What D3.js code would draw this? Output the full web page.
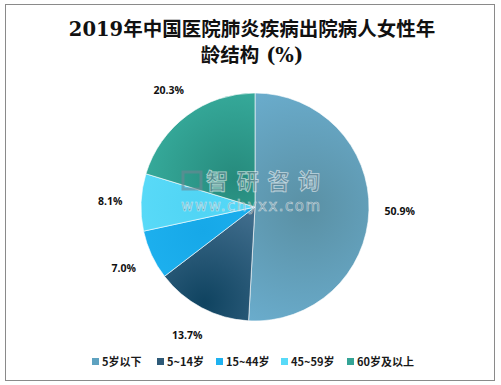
<!DOCTYPE html>
<html><head><meta charset="utf-8">
<script src="https://cdn.jsdelivr.net/npm/d3@7"></script>
<style>body{margin:0;background:#fff}svg{display:block}</style>
</head><body>
<script>
const categories = ["5岁以下", "5~14岁", "15~44岁", "45~59岁", "60岁及以上"];
const values = [50.9, 13.7, 7.0, 8.1, 20.3];
const labels = ["50.9%", "13.7%", "7.0%", "8.1%", "20.3%"];
const innerColors = ["#5a90a4", "#0f4360", "#16a8e8", "#50d4f4", "#268a7c"];
const outerColors = ["#6aaccc", "#4d7898", "#24b8f4", "#62e0fc", "#3cb6a6"];
const legendColors = ["#5ea2c0", "#2e5a78", "#1eb2f0", "#58daf8", "#34a496"];

const W = 501, H = 385;
const svg = d3.select("body").append("svg").attr("width", W).attr("height", H);
svg.append("rect").attr("x", 5.5).attr("y", 4.5).attr("width", 489).attr("height", 376)
  .attr("fill", "#fff").attr("stroke", "#8a8a8a").attr("stroke-width", 1);

const title = svg.append("text").attr("text-anchor", "middle")
  .style("font-family", "'DejaVu Serif','Noto Sans CJK SC',serif").style("font-size", "19.5px")
  .style("font-weight", "bold").attr("fill", "#111");
title.append("tspan").attr("x", 252).attr("y", 36).text("2019年中国医院肺炎疾病出院病人女性年");
title.append("tspan").attr("x", 252).attr("y", 62).text("龄结构 (%)");

const cx = 255, cy = 207, r = 114;
const pie = d3.pie().sort(null).value(d => d);
const arcs = pie(values);
const arc = d3.arc().innerRadius(0).outerRadius(r);
const g = svg.append("g").attr("transform", `translate(${cx},${cy})`);
const defs = svg.append("defs");
const gradCenters = [0.45, 0.95, 0.5, 0.5, 0.3];
arcs.forEach((a, i) => {
  const mid = (a.startAngle + a.endAngle) / 2;
  const gr = defs.append("radialGradient").attr("id", "g" + i)
    .attr("gradientUnits", "userSpaceOnUse")
    .attr("cx", Math.sin(mid) * r * gradCenters[i]).attr("cy", -Math.cos(mid) * r * gradCenters[i])
    .attr("r", r * 1.1);
  gr.append("stop").attr("offset", "0%").attr("stop-color", innerColors[i]);
  gr.append("stop").attr("offset", "100%").attr("stop-color", outerColors[i]);
});
g.selectAll("path.slice").data(arcs).join("path").attr("class", "slice")
  .attr("d", arc).attr("fill", (d, i) => `url(#g${i})`)
  .attr("stroke", "#fff").attr("stroke-width", 0.6);

// watermark
const wm = svg.append("g").attr("opacity", 0.6);
wm.append("rect").attr("x", 183).attr("y", 172).attr("width", 18).attr("height", 17)
  .attr("fill", "none").attr("stroke", "#6f8794").attr("stroke-width", 3);
wm.append("text").attr("x", 206).attr("y", 189)
  .style("font-family", "'Noto Sans CJK SC',sans-serif").style("font-size", "22px").style("font-weight", "bold")
  .attr("textLength", 114)
  .attr("fill", "#6f8794").attr("stroke", "#fff").attr("stroke-width", 0.8).text("智研咨询");
wm.append("text").attr("x", 181).attr("y", 211)
  .style("font-family", "'DejaVu Sans',sans-serif").style("font-size", "15px")
  .attr("textLength", 139)
  .attr("fill", "#6f8794").attr("stroke", "#fff").attr("stroke-width", 0.6).text("www.chyxx.com");

// labels
const labelArc = d3.arc().innerRadius(r * 1.27).outerRadius(r * 1.27);
g.selectAll("text.lbl").data(arcs).join("text").attr("class", "lbl")
  .attr("transform", d => { const c = labelArc.centroid(d); return `translate(${c[0]},${c[1]})`; })
  .attr("text-anchor", "middle").attr("dy", "0.35em")
  .style("font-family", "'Open Sans','DejaVu Sans',sans-serif").style("font-size", "10.5px").style("font-weight", "bold")
  .attr("fill", "#111").text((d, i) => labels[i]);

// legend
const legendX = [92, 157, 216, 281, 347];
const lg = svg.append("g");
categories.forEach((c, i) => {
  const it = lg.append("g").attr("transform", `translate(${legendX[i]},362)`);
  it.append("rect").attr("x", 0).attr("y", -4).attr("width", 7).attr("height", 7).attr("fill", legendColors[i]);
  it.append("text").attr("x", 10).attr("y", 0).attr("dy", "0.35em")
    .style("font-family", "'Noto Sans CJK SC',sans-serif").style("font-size", "11px").style("font-weight", "bold")
    .attr("fill", "#1a1a1a").text(c);
});
</script>
</body></html>
